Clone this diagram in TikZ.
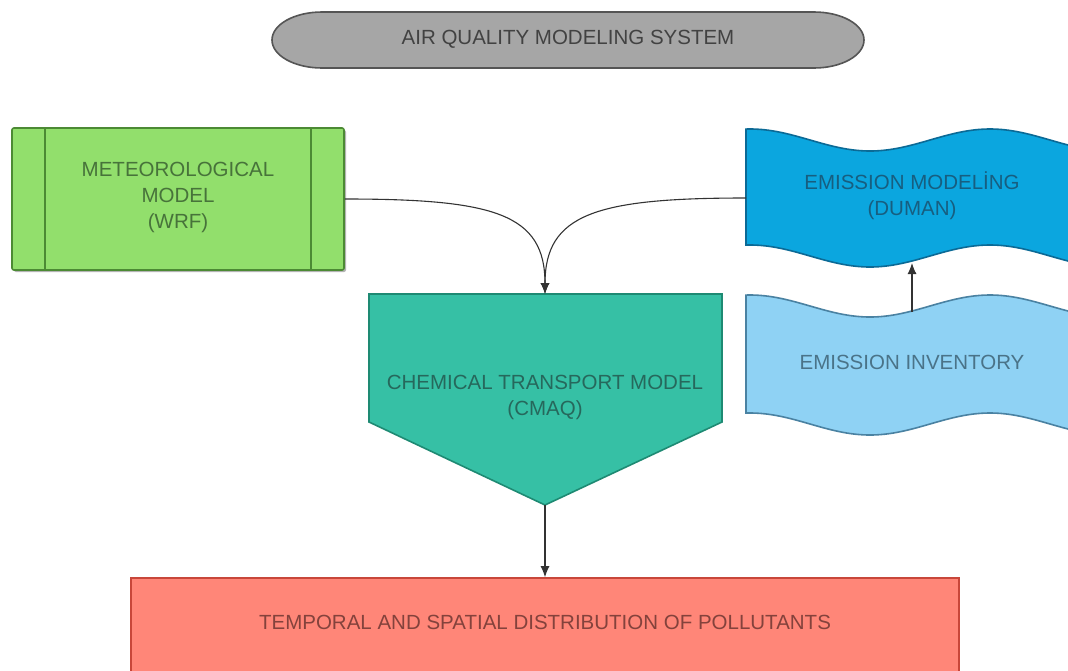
\documentclass[tikz,border=0pt]{standalone}
\usepackage{fontspec}
\setmainfont{Liberation Sans}
\usetikzlibrary{arrows.meta}
\definecolor{titlefill}{HTML}{A6A6A6}
\definecolor{titledraw}{HTML}{555555}
\definecolor{titletext}{HTML}{424242}
\definecolor{greenfill}{HTML}{92DF6C}
\definecolor{greendraw}{HTML}{4C8A34}
\definecolor{greentext}{HTML}{47733A}
\definecolor{tealfill}{HTML}{36C0A5}
\definecolor{tealdraw}{HTML}{1E8A73}
\definecolor{tealtext}{HTML}{26685C}
\definecolor{modfill}{HTML}{0BA6DF}
\definecolor{moddraw}{HTML}{0B6A96}
\definecolor{modtext}{HTML}{175E80}
\definecolor{invfill}{HTML}{8FD2F4}
\definecolor{invdraw}{HTML}{4A82A2}
\definecolor{invtext}{HTML}{4A7388}
\definecolor{redfill}{HTML}{FF8678}
\definecolor{reddraw}{HTML}{C8473A}
\definecolor{redtext}{HTML}{84423C}
\definecolor{linec}{HTML}{333333}
\definecolor{shadowc}{HTML}{B4B4B4}
\begin{document}
\begin{tikzpicture}[x=1pt,y=-1pt,
  lbl/.style={font=\fontsize{20.5}{26}\selectfont, align=center, inner sep=0pt},
  conn/.style={draw=linec, line width=1.1pt, -{Latex[length=11pt,width=9pt]}},
  edge/.style={line width=1.6pt}]
\useasboundingbox (0,0) rectangle (1068,670);
\clip (0,0) rectangle (1068,670);
\fill[white] (0,0) rectangle (1068,670);

% title
\path[fill=titlefill, draw=titledraw, edge]
  (322,12) -- (814,12)
  .. controls (841.6,12) and (864,24.5) .. (864,40)
  .. controls (864,55.5) and (841.6,68) .. (814,68)
  -- (322,68)
  .. controls (294.4,68) and (272,55.5) .. (272,40)
  .. controls (272,24.5) and (294.4,12) .. (322,12) -- cycle;
\node[lbl, text=titletext] (title) at (568,39) {AIR QUALITY MODELING SYSTEM};

% meteorological model
\fill[shadowc, rounded corners=2pt] (14,130) rectangle (346,272);
\node[draw=greendraw, fill=greenfill, edge, minimum width=332pt, minimum height=142pt,
  rounded corners=2pt, inner sep=0pt] (wrf) at (178,199) {};
\draw[greendraw, edge] ([xshift=34pt]wrf.north west) -- ([xshift=34pt]wrf.south west);
\draw[greendraw, edge] ([xshift=-34pt]wrf.north east) -- ([xshift=-34pt]wrf.south east);
\node[lbl, text=greentext] (wrftext) at (178,197) {METEOROLOGICAL\\MODEL\\(WRF)};

% chemical transport model
\path[fill=tealfill, draw=tealdraw, edge]
  (369,294) -- (722,294) -- (722,422) -- (545,505) -- (369,422) -- cycle;
\node[lbl, text=tealtext] (cmaq) at (545,397) {CHEMICAL TRANSPORT MODEL\\(CMAQ)};
\coordinate (cmaqtop) at (545,294);
\coordinate (cmaqtip) at (545,505);

% emission modeling
\path[fill=modfill, draw=moddraw, edge]
  plot[domain=746:1080, samples=90] (\x, {140-11*cos(1.5*(\x-750))})
  -- plot[domain=1080:746, samples=90] (\x, {256-11*cos(1.5*(\x-750))}) -- cycle;
\node[lbl, text=modtext] (duman) at (912,196) {EMISSION MODELİNG\\(DUMAN)};
\coordinate (modleft) at (746,198);
\coordinate (modbot) at (912,263);

% emission inventory
\path[fill=invfill, draw=invdraw, edge]
  plot[domain=746:1080, samples=90] (\x, {306-11*cos(1.5*(\x-750))})
  -- plot[domain=1080:746, samples=90] (\x, {424-11*cos(1.5*(\x-750))}) -- cycle;
\node[lbl, text=invtext] (inv) at (912,362) {EMISSION INVENTORY};
\coordinate (invtop) at (912,312);

% result
\node[draw=reddraw, fill=redfill, edge, minimum width=828pt, minimum height=112pt,
  inner sep=0pt] (red) at (545,634) {};
\node[lbl, text=redtext] (redtext) at (545,622) {TEMPORAL AND SPATIAL DISTRIBUTION OF POLLUTANTS};

% connectors
\draw[conn] (wrf.east) .. controls +(150,0) and +(0,-80) .. (cmaqtop);
\draw[conn] (modleft) .. controls +(-150,0) and +(0,-80) .. (cmaqtop);
\draw[conn] (invtop) -- (modbot);
\draw[conn] (cmaqtip) -- (red.north);
\end{tikzpicture}
\end{document}
